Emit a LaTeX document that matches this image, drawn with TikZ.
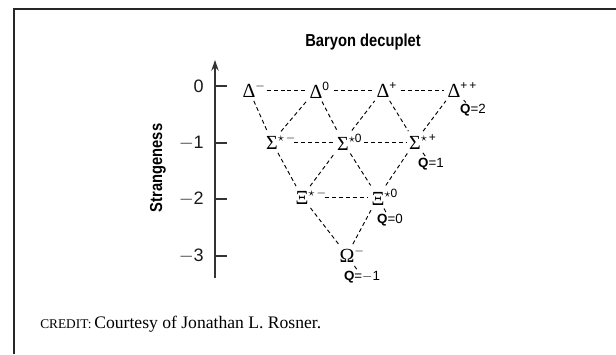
\documentclass[tikz,border=0pt]{standalone}
\usepackage{fontspec}
\setmainfont{Liberation Serif}
\setsansfont{Liberation Sans}
\newfontfamily\narrowsf[FakeStretch=0.85]{Liberation Sans}
\usetikzlibrary{arrows.meta}

% Greek letter with a superscript that takes no width
\newcommand\hadron[2]{#1\rlap{\raisebox{0.9ex}{\sffamily\fontsize{9}{10}\selectfont#2}}}

\begin{document}
\begin{tikzpicture}[x=0.75pt, y=-0.75pt,
    every node/.style={inner sep=0pt},
    panelframe/.style={line width=2.2pt, black!85},
    axisline/.style={line width=1.5pt, black!80, -{Stealth[length=8pt, width=5.5pt]}},
    tickline/.style={line width=0.9pt, black!80},
    ticklbl/.style={anchor=east, font=\sffamily\fontsize{13.5}{15}\selectfont, black!90},
    particle/.style={inner sep=2.2pt, font=\fontsize{15}{17}\selectfont},
    link/.style={dash pattern=on 3pt off 2.2pt, line width=0.7pt},
    qlbl/.style={inner sep=1pt, font=\sffamily\fontsize{10}{12}\selectfont},
    ttl/.style={font=\narrowsf\bfseries\fontsize{13}{15}\selectfont}
]
\useasboundingbox (0,0) rectangle (616,354);

% frame (top and left only)
\draw[panelframe] (14,354) -- (14,9) -- (616,9);

% title and axis
\node[ttl] (title) at (363,42) {Baryon decuplet};
\node[ttl, rotate=90] (ylab) at (158,168) {Strangeness};

\coordinate (ybot) at (215,278);
\coordinate (ytop) at (215,60);
\draw[axisline] (ybot) -- (ytop);

\foreach \s/\y [count=\i] in {0/86, {$-$1}/143, {$-$2}/199, {$-$3}/256} {
  \coordinate (t\i) at (215,\y);
  \draw[tickline] (t\i) -- ++(12,0);
  \node[ticklbl] (tl\i) at (204,\y) {\s};
}

% the ten baryons
\node[particle] (dm)  at (249,90)  {\hadron{Δ}{$-$}};
\node[particle] (d0)  at (316,90)  {\hadron{Δ}{0}};
\node[particle] (dp)  at (383,90)  {\hadron{Δ}{+}};
\node[particle] (dpp) at (454,90)  {\hadron{Δ}{+\,+}};
\node[particle] (sm)  at (272,142) {\hadron{Σ}{$\star$\,$-$}};
\node[particle] (s0)  at (343,142) {\hadron{Σ}{$\star$0}};
\node[particle] (sp)  at (415,142) {\hadron{Σ}{$\star$\,+}};
\node[particle] (xm)  at (302,197) {\hadron{Ξ}{$\star$\,$-$}};
\node[particle] (x0)  at (378,197) {\hadron{Ξ}{$\star$0}};
\node[particle] (om)  at (347,255) {\hadron{Ω}{$-$}};

% charge labels
\node[qlbl] (q2)  at (473,110) {\textbf{Q}=2};
\node[qlbl] (q1)  at (431,164) {\textbf{Q}=1};
\node[qlbl] (q0)  at (390,220) {\textbf{Q}=0};
\node[qlbl] (qm1) at (362,277) {\textbf{Q}=$-$1};

% lattice
\draw[link, shorten <=6pt] (dm) -- (d0);
\draw[link, shorten <=6pt] (d0) -- (dp);
\draw[link, shorten <=6pt] (dp) -- (dpp);
\draw[link, shorten <=10pt] (sm) -- (s0);
\draw[link, shorten <=9pt] (s0) -- (sp);
\draw[link, shorten <=10pt] (xm) -- (x0);
\foreach \a/\b in {dm/sm, sm/d0, d0/s0, s0/dp, dp/sp, sp/dpp,
                   sm/xm, xm/s0, s0/x0, x0/sp, xm/om, om/x0}
  \draw[link] (\a) -- (\b);

\draw[link] (dpp) -- (q2);
\draw[link] (sp) -- (q1);
\draw[link] (x0) -- (q0);
\draw[link] (om) -- (qm1);

% credit line
\node[anchor=base west, font=\fontsize{13.2}{15}\selectfont] (credit) at (40,328)
  {{\fontsize{10}{12}\selectfont CREDIT:}\,Courtesy of Jonathan L. Rosner.};
\end{tikzpicture}
\end{document}
